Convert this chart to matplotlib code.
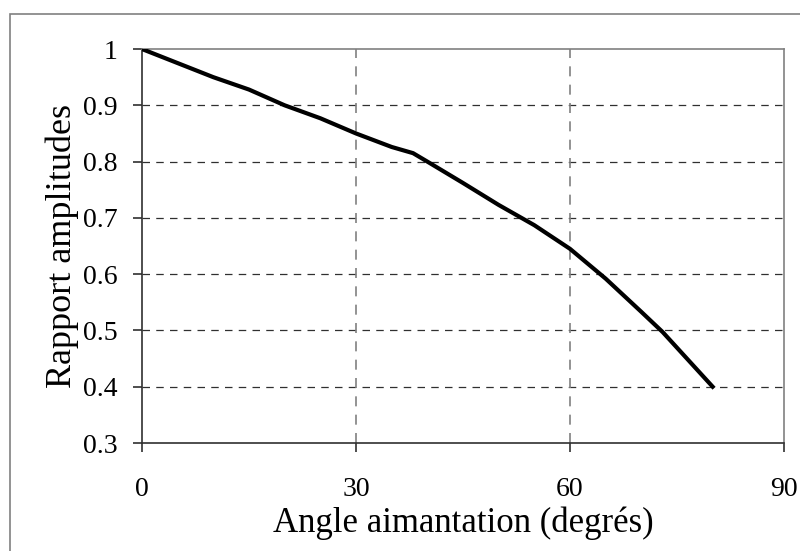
import matplotlib
matplotlib.use("Agg")
import matplotlib.pyplot as plt
from matplotlib.patches import Rectangle

# Amplitude ratio vs magnetisation angle
angle = [0, 10, 15, 20, 25, 30, 35, 38, 40, 45, 50, 55, 60, 65, 70, 73, 80]
ratio = [1.0, 0.95, 0.928, 0.90, 0.877, 0.85, 0.826, 0.815, 0.80, 0.762,
         0.723, 0.687, 0.645, 0.592, 0.533, 0.497, 0.40]

x_ticks = [0, 30, 60, 90]
y_ticks = [0.3, 0.4, 0.5, 0.6, 0.7, 0.8, 0.9, 1]
y_labels = ["0.3", "0.4", "0.5", "0.6", "0.7", "0.8", "0.9", "1"]

plt.rcParams["font.family"] = ["Liberation Serif", "DejaVu Serif"]

fig = plt.figure(figsize=(8, 5.51), dpi=100)
ax = fig.add_axes([0.1775, 0.196, 0.8025, 0.715])

# outer chart frame
fig.patches.append(Rectangle((10 / 800, -0.1), 1.2, 0.1 + (551 - 14) / 551,
                             transform=fig.transFigure, fill=False,
                             edgecolor="#808080", linewidth=1.2))

ax.plot(angle, ratio, color="black", linewidth=3, zorder=3)

ax.set_xlim(0, 90)
ax.set_ylim(0.3, 1)
ax.set_xticks(x_ticks)
ax.set_yticks(y_ticks)
ax.set_yticklabels(y_labels)

for y in y_ticks[1:-1]:
    ax.axhline(y, color="#303030", linewidth=0.9, linestyle=(0, (6, 5)), zorder=1)
for x in x_ticks[1:-1]:
    ax.axvline(x, color="#808080", linewidth=1.2, linestyle=(0, (6, 5)), zorder=1)

ax.spines["top"].set_color("#808080")
ax.spines["right"].set_color("#808080")
ax.spines["left"].set_color("#303030")
ax.spines["bottom"].set_color("#303030")
for s in ax.spines.values():
    s.set_linewidth(1.2)

ax.tick_params(direction="out", length=6.5, width=1.2, color="#303030",
               labelsize=20)
ax.tick_params(axis="y", pad=11)
ax.tick_params(axis="x", pad=18)

ax.set_xlabel("Angle aimantation (degrés)", fontsize=25, labelpad=3)
ax.set_ylabel("Rapport amplitudes", fontsize=26, labelpad=3)

fig.savefig("out.png", dpi=100)
